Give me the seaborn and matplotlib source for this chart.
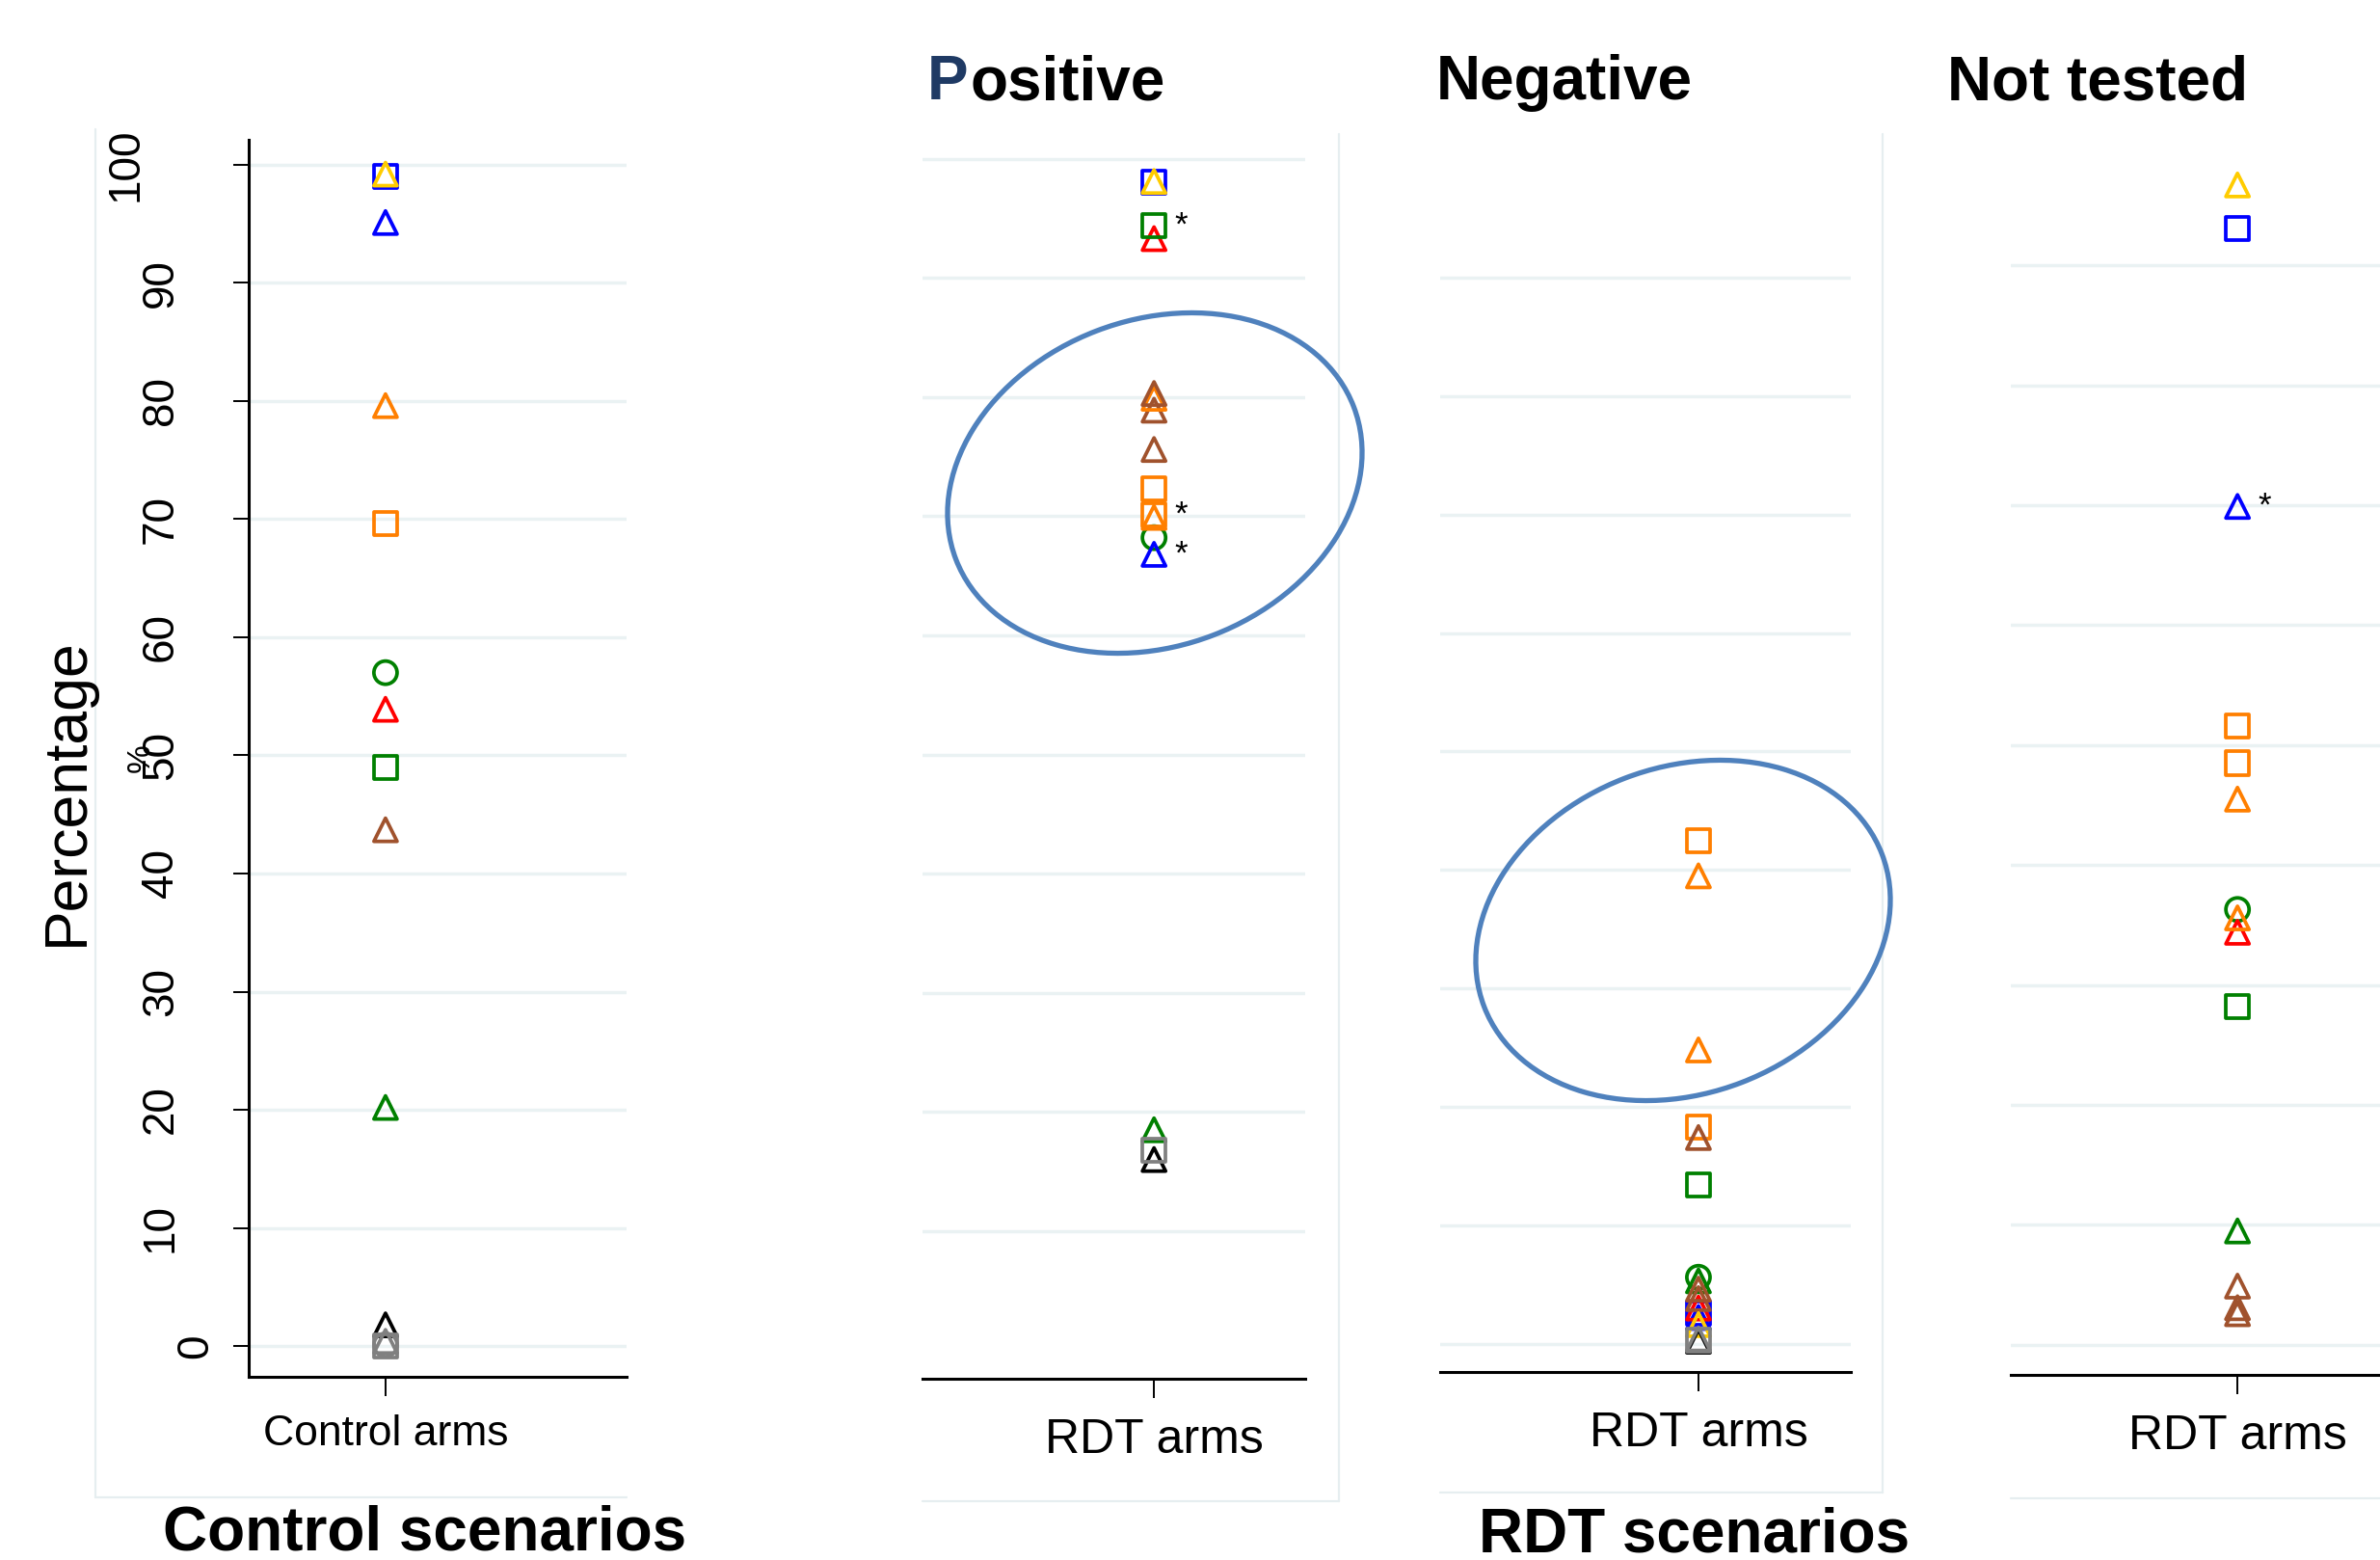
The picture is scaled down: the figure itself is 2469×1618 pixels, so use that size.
import pandas as pd
import matplotlib.pyplot as plt
import matplotlib.transforms as mtransforms
from matplotlib.patches import Ellipse
from matplotlib.lines import Line2D
import seaborn as sns

# %% values (percent)
ctrl_colour = ["black", "grey", "grey", "grey", "green", "brown", "green", "red",
               "green", "orange", "orange", "blue", "blue", "gold"]
ctrl_shape = ["triangle", "circle", "triangle", "square", "triangle", "triangle", "square",
              "triangle", "circle", "square", "triangle", "triangle", "square", "triangle"]
ctrl_pct = [1.8, 0.1, 0.4, 0.0, 20.2, 43.7, 49.0, 53.9, 57.0, 69.6, 79.6, 95.1, 99.0, 99.2]
ctrl_star = [False] * 14

pos_colour = ["green", "black", "grey", "green", "blue", "orange", "orange", "orange",
              "brown", "brown", "orange", "brown", "red", "green", "blue", "gold"]
pos_shape = ["triangle", "triangle", "square", "circle", "triangle", "triangle", "square",
             "square", "triangle", "triangle", "triangle", "triangle", "triangle", "square",
             "square", "triangle"]
pos_pct = [18.5, 16.0, 16.8, 68.2, 66.8, 69.9, 70.1, 72.3, 75.6, 78.9, 79.9, 80.3,
           93.3, 94.4, 98.0, 98.1]
pos_star = [False, False, False, False, True, False, True, False, False, False, False,
            False, False, True, False, False]

neg_colour = ["green", "green", "blue", "blue", "red", "brown", "brown", "gold", "black",
              "grey", "grey", "green", "orange", "brown", "orange", "orange", "orange"]
neg_shape = ["circle", "triangle", "square", "triangle", "triangle", "triangle", "triangle",
             "triangle", "triangle", "triangle", "square", "square", "square", "triangle",
             "triangle", "triangle", "square"]
neg_pct = [5.6, 5.3, 2.6, 2.2, 3.0, 4.6, 3.8, 1.6, 0.2, 0.4, 0.3, 13.4, 18.3, 17.4,
           24.8, 39.5, 42.5]
neg_star = [False] * 17

nt_colour = ["brown", "brown", "brown", "green", "green", "green", "red", "orange",
             "orange", "orange", "orange", "blue", "blue", "gold"]
nt_shape = ["triangle", "triangle", "triangle", "triangle", "square", "circle", "triangle",
            "triangle", "triangle", "square", "square", "triangle", "square", "triangle"]
nt_pct = [2.6, 3.1, 4.9, 9.5, 28.2, 36.3, 34.4, 35.6, 45.5, 48.5, 51.6, 69.9, 93.1, 96.7]
nt_star = [False] * 11 + [True, False, False]

palette = {"blue": "#0000ff", "gold": "#ffcc00", "orange": "#ff7f00", "green": "#008000",
           "red": "#ff0000", "brown": "#a0522d", "black": "#000000", "grey": "#808080"}
markers = {"square": "s", "triangle": "^", "circle": "o"}

# %% style
sns.set_style("white")
plt.rcParams["font.family"] = ["Liberation Sans", "DejaVu Sans"]
plt.rcParams["text.color"] = "black"
plt.rcParams["xtick.color"] = "black"
plt.rcParams["ytick.color"] = "black"
plt.rcParams["axes.labelcolor"] = "black"

W, H = 2469, 1618
fig = plt.figure(figsize=(W / 100, H / 100), dpi=100)


def px_rect(x0, x1, y_top, y_bot):
    return [x0 / W, 1 - y_bot / H, (x1 - x0) / W, (y_bot - y_top) / H]


grid_col = "#eaf2f3"
frame_col = "#e6eef0"

# panel: (label, colours, shapes, pct, stars, rect, ylim, xlim, yticks, ticklabel size)
panels = [
    ("Control arms", ctrl_colour, ctrl_shape, ctrl_pct, ctrl_star,
     px_rect(258, 650, 145, 1428), (-2.6, 102.1), (-0.362, 0.638), range(0, 101, 10), 32),
    ("RDT arms", pos_colour, pos_shape, pos_pct, pos_star,
     px_rect(957, 1354, 140, 1430), (-2.4, 102.0), (-0.605, 0.395), range(10, 101, 10), 36),
    ("RDT arms", neg_colour, neg_shape, neg_pct, neg_star,
     px_rect(1494, 1920, 190, 1423), (-2.4, 98.0), (-0.629, 0.371), range(0, 91, 10), 36),
    ("RDT arms", nt_colour, nt_shape, nt_pct, nt_star,
     px_rect(2086, 2469, 157, 1426), (-2.5, 99.5), (-0.614, 0.386), range(0, 91, 10), 36),
]

axes = []
for i, (arm, colour, shape, pct, star, rect, ylim, xlim, yticks, tsize) in enumerate(panels):
    ax = fig.add_axes(rect)
    df = pd.DataFrame({"arm": arm, "colour": colour, "shape": shape, "pct": pct})
    sns.scatterplot(data=df, x="arm", y="pct", hue="colour", style="shape",
                    palette=palette, markers=markers, s=300, linewidth=2.7,
                    legend=False, ax=ax, zorder=3)
    pts = ax.collections[-1]
    pts.set_edgecolors(pts.get_facecolors())
    pts.set_facecolors("none")

    for v, flag in zip(pct, star):
        if flag:
            ax.annotate("*", xy=(0, v), xytext=(28, 0), textcoords="offset pixels",
                        ha="center", va="center", fontsize=25)

    ax.set_xlim(*xlim)
    ax.set_ylim(*ylim)
    ax.set_yticks(list(yticks))
    ax.yaxis.grid(True, color=grid_col, lw=2.5)
    ax.set_axisbelow(True)
    ax.set_xlabel("")
    ax.set_ylabel("")
    for side in ["top", "right", "left"]:
        ax.spines[side].set_visible(False)
    ax.spines["bottom"].set_linewidth(2.2)
    ax.spines["bottom"].set_color("black")
    ax.tick_params(axis="x", bottom=True, length=14.4, width=1.4, color="black",
                   labelcolor="black", labelsize=tsize, pad=14 if i == 0 else 15)
    ax.tick_params(axis="y", left=False, labelleft=False)
    axes.append(ax)

# first panel carries the y axis
ax0 = axes[0]
ax0.spines["left"].set_visible(True)
ax0.spines["left"].set_linewidth(2.2)
ax0.spines["left"].set_color("black")
ax0.tick_params(axis="y", left=True, length=11.5, width=1.4, color="black", labelleft=False)
for v in range(0, 101, 10):
    lab = str(v)
    tr = mtransforms.offset_copy(ax0.get_yaxis_transform(), fig=fig,
                                 x=-19 - 36 * len(lab), y=0, units="dots")
    ax0.text(0, v, lab, transform=tr, rotation=90, ha="center", va="center", fontsize=33)
fig.text(146 / W, 1 - 786 / H, "%", rotation=90, ha="center", va="center", fontsize=24)
fig.text(69 / W, 1 - 821 / H, "Percentage", rotation=90, ha="center", va="center",
         fontsize=45)

# light graph-region frames
frames = [
    ((99, 99), (134, 1553)), ((99, 650), (1553, 1553)),
    ((1389, 1389), (139, 1557)), ((957, 1389), (1557, 1557)),
    ((1953, 1953), (139, 1548)), ((1494, 1953), (1548, 1548)),
    ((2086, 2469), (1554, 1554)),
]
for xs, ys in frames:
    fig.add_artist(Line2D([x / W for x in xs], [1 - y / H for y in ys],
                          transform=fig.transFigure, color=frame_col, lw=1.6, zorder=0))

# titles
p = fig.text(962 / W, 1 - 103 / H, "P", color="#1f3a64", fontsize=46,
             fontweight="bold", ha="left", va="baseline")
ax0.annotate("ositive", xy=(1, 0), xycoords=p, xytext=(2, 0), textcoords="offset pixels",
             ha="left", va="bottom", fontsize=46, fontweight="bold", color="black",
             annotation_clip=False)
fig.text(1490 / W, 1 - 103 / H, "Negative", fontsize=46, fontweight="bold",
         ha="left", va="baseline")
fig.text(2020 / W, 1 - 103 / H, "Not tested", fontsize=46, fontweight="bold",
         ha="left", va="baseline")
fig.text(441 / W, 1 - 1607 / H, "Control scenarios", fontsize=46, fontweight="bold",
         ha="center", va="baseline")
fig.text(1758 / W, 1 - 1609 / H, "RDT scenarios", fontsize=46, fontweight="bold",
         ha="center", va="baseline")

# highlight ellipses
for cx, cy in [(1198, 501), (1746, 965)]:
    fig.add_artist(Ellipse((cx / 100, (H - cy) / 100), 4.42, 3.38, angle=21,
                           transform=fig.dpi_scale_trans, fill=False,
                           edgecolor="#4f81bd", lw=3.8, zorder=5))

fig.savefig("out.png", dpi=100)
